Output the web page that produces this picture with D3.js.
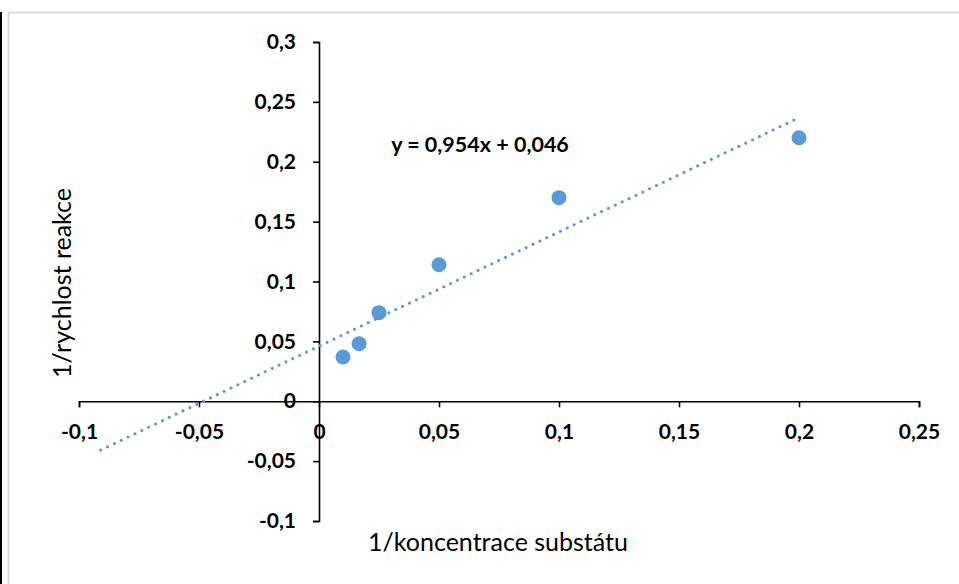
<!DOCTYPE html>
<html>
<head>
<meta charset="utf-8">
<script src="https://cdn.jsdelivr.net/npm/d3@7"></script>
<style>
  body { margin: 0; background: #fff; }
  svg { display: block; font-family: Lato, "Open Sans", sans-serif; }
</style>
</head>
<body>
<div id="chart"></div>
<script>
// data
const xValues = [0.01, 0.0167, 0.025, 0.05, 0.1, 0.2];
const yValues = [0.037, 0.048, 0.074, 0.114, 0.17, 0.22];
const xTicks = [-0.1, -0.05, 0, 0.05, 0.1, 0.15, 0.2, 0.25];
const yTicks = [-0.1, -0.05, 0, 0.05, 0.1, 0.15, 0.2, 0.25, 0.3];
const trendSlope = 0.954;
const trendIntercept = 0.046;
const trendRange = [-0.091, 0.2];
const xTitle = '1/koncentrace substátu';
const yTitle = '1/rychlost reakce';

const width = 959;
const height = 584;
const blue = '#5b9bd5';
const font = 'Lato, "Open Sans", sans-serif';
const fmt = (d) => String(d).replace('.', ',');

const svg = d3
  .select('#chart')
  .append('svg')
  .attr('width', width)
  .attr('height', height);

// frame
svg.append('rect').attr('x', 0).attr('y', 12).attr('width', 2).attr('height', height - 12).attr('fill', '#000');
svg.append('path').attr('d', `M8.5,${height} V12.5 H${width}`).attr('fill', 'none').attr('stroke', '#d9d9d9').attr('stroke-width', 2);

const xScale = d3.scaleLinear().domain([-0.1, 0.25]).range([79, 919]);
const yScale = d3.scaleLinear().domain([-0.1, 0.3]).range([521, 42]);

// x axis through y=0
const xAxis = svg
  .append('g')
  .attr('transform', `translate(0,${yScale(0)})`)
  .call(d3.axisBottom(xScale).tickValues(xTicks).tickSizeInner(6).tickSizeOuter(6).tickFormat(fmt));

// y axis through x=0
const yAxis = svg
  .append('g')
  .attr('transform', `translate(${xScale(0)},0)`)
  .call(d3.axisLeft(yScale).tickValues(yTicks).tickSizeInner(6).tickSizeOuter(6).tickFormat(fmt));

[xAxis, yAxis].forEach((a) => {
  a.attr('font-family', font);
  a.select('.domain').attr('stroke', '#000').attr('stroke-width', 1.6);
  a.selectAll('.tick line').attr('stroke', '#000').attr('stroke-width', 1.6);
  a.selectAll('.tick text')
    .attr('fill', '#000')
    .attr('font-size', 21)
    .attr('font-weight', 'bold');
});
xAxis.selectAll('.tick text').attr('y', 23);
yAxis.selectAll('.tick text').attr('x', -23);

// trendline
const trend = trendRange.map((x) => [x, trendSlope * x + trendIntercept]);
svg
  .append('path')
  .datum(trend)
  .attr('fill', 'none')
  .attr('stroke', blue)
  .attr('stroke-width', 3)
  .attr('stroke-linecap', 'round')
  .attr('stroke-dasharray', '0.1 7.5')
  .attr('d', d3.line().x((d) => xScale(d[0])).y((d) => yScale(d[1])));

// points
svg
  .append('g')
  .selectAll('circle')
  .data(xValues.map((x, i) => [x, yValues[i]]))
  .enter()
  .append('circle')
  .attr('cx', (d) => xScale(d[0]))
  .attr('cy', (d) => yScale(d[1]))
  .attr('r', 7.5)
  .attr('fill', blue);

// equation
svg
  .append('text')
  .attr('x', 480)
  .attr('y', 152)
  .attr('text-anchor', 'middle')
  .attr('font-size', 21.5)
  .attr('font-weight', 'bold')
  .text(`y = ${fmt(trendSlope)}x + ${fmt(trendIntercept)}`);

// axis titles
svg
  .append('text')
  .attr('x', 498)
  .attr('y', 551)
  .attr('text-anchor', 'middle')
  .attr('font-size', 25)
  .text(xTitle);

svg
  .append('text')
  .attr('transform', 'translate(71,283) rotate(-90)')
  .attr('text-anchor', 'middle')
  .attr('font-size', 25)
  .text(yTitle);
</script>
</body>
</html>
